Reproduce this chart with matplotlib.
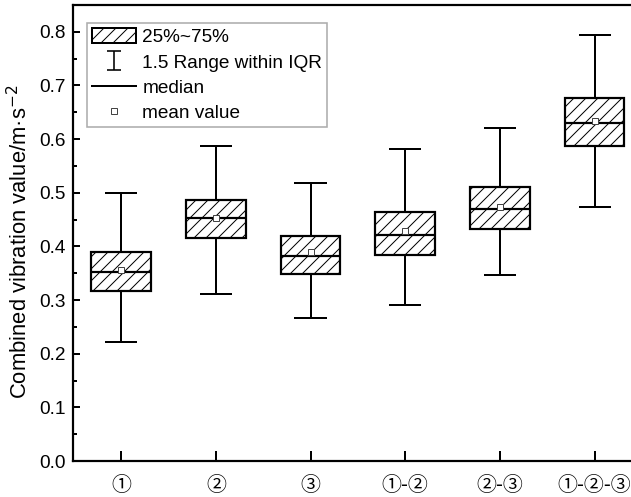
import numpy as np
import matplotlib
matplotlib.use("Agg")
import matplotlib.pyplot as plt
from matplotlib.patches import Patch
from matplotlib.lines import Line2D

plt.rcParams['font.family'] = ['Liberation Sans', 'DejaVu Sans']
plt.rcParams['hatch.linewidth'] = 0.5
plt.rcParams['hatch.color'] = '#333333'

# data
groups = ['①', '②', '③', '①-②', '②-③', '①-②-③']
whislo = [0.222, 0.312, 0.267, 0.290, 0.346, 0.473]
q1 = [0.316, 0.416, 0.349, 0.384, 0.433, 0.588]
med = [0.353, 0.453, 0.382, 0.422, 0.470, 0.630]
q3 = [0.390, 0.487, 0.420, 0.465, 0.510, 0.676]
whishi = [0.500, 0.588, 0.519, 0.582, 0.621, 0.795]
means = [0.356, 0.453, 0.389, 0.429, 0.474, 0.634]

stats = []
for i in range(len(groups)):
    stats.append(dict(label=groups[i], whislo=whislo[i], q1=q1[i], med=med[i],
                      q3=q3[i], whishi=whishi[i], mean=means[i], fliers=[]))

dpi = 144
fig = plt.figure(figsize=(631 / dpi, 497 / dpi), dpi=dpi)
ax = fig.add_axes([73 / 631, 36 / 497, 569 / 631, 456 / 497])

pos = np.arange(1, len(groups) + 1)
bp = ax.bxp(stats, positions=pos, widths=0.63, capwidths=0.32,
            patch_artist=True, showmeans=True, showfliers=False,
            boxprops=dict(facecolor='white', edgecolor='black', linewidth=1.1, hatch='////'),
            medianprops=dict(color='black', linewidth=1.1),
            whiskerprops=dict(color='black', linewidth=1.0),
            capprops=dict(color='black', linewidth=1.0),
            meanprops=dict(marker='s', markersize=3, markerfacecolor='white',
                           markeredgecolor='#444444', markeredgewidth=0.5))

ax.set_xlim(0.49, 6.5)
ax.set_ylim(0, 0.85)
ax.set_yticks(np.arange(0, 0.81, 0.1))
ax.set_yticks(np.arange(0.05, 0.85, 0.1), minor=True)
ax.set_yticklabels([f'{v:.1f}' for v in np.arange(0, 0.81, 0.1)], fontsize=9.5)
ax.set_xticks(pos)
ax.set_xticklabels(groups, fontsize=10, family=['Noto Sans CJK SC', 'DejaVu Sans'])
ax.tick_params(axis='y', which='major', direction='in', length=3.5, width=1)
ax.tick_params(axis='y', which='minor', direction='in', length=2, width=1)
ax.tick_params(axis='x', which='major', direction='in', length=5, width=1, pad=7)
ax.tick_params(axis='x', which='minor', bottom=False)
for s in ax.spines.values():
    s.set_linewidth(1.1)

ax.set_ylabel('Combined vibration value/m·s$^{-2}$', fontsize=11)
ax.yaxis.set_label_coords(-0.072, 0.48)

# legend
eb = ax.errorbar([np.nan], [np.nan], yerr=[1], fmt='none', ecolor='black',
                 elinewidth=0.8, capsize=3.5, capthick=0.8)
handles = [
    Patch(facecolor='white', edgecolor='black', hatch='////', linewidth=1.0),
    eb,
    Line2D([], [], color='black', linewidth=1.0),
    Line2D([], [], linestyle='none', marker='s', markersize=3, markerfacecolor='white',
           markeredgecolor='#444444', markeredgewidth=0.5),
]
labels = ['25%~75%', '1.5 Range within IQR', 'median', 'mean value']
leg = ax.legend(handles, labels, loc='upper left', bbox_to_anchor=(0.025, 0.96),
                borderaxespad=0, fontsize=9.5, frameon=True, fancybox=False,
                handlelength=2.3, handletextpad=0.35, labelspacing=0.38,
                borderpad=0.25, handleheight=0.85)
leg.get_frame().set_edgecolor('#999999')
leg.get_frame().set_linewidth(0.8)

fig.savefig('out.png', dpi=dpi)
